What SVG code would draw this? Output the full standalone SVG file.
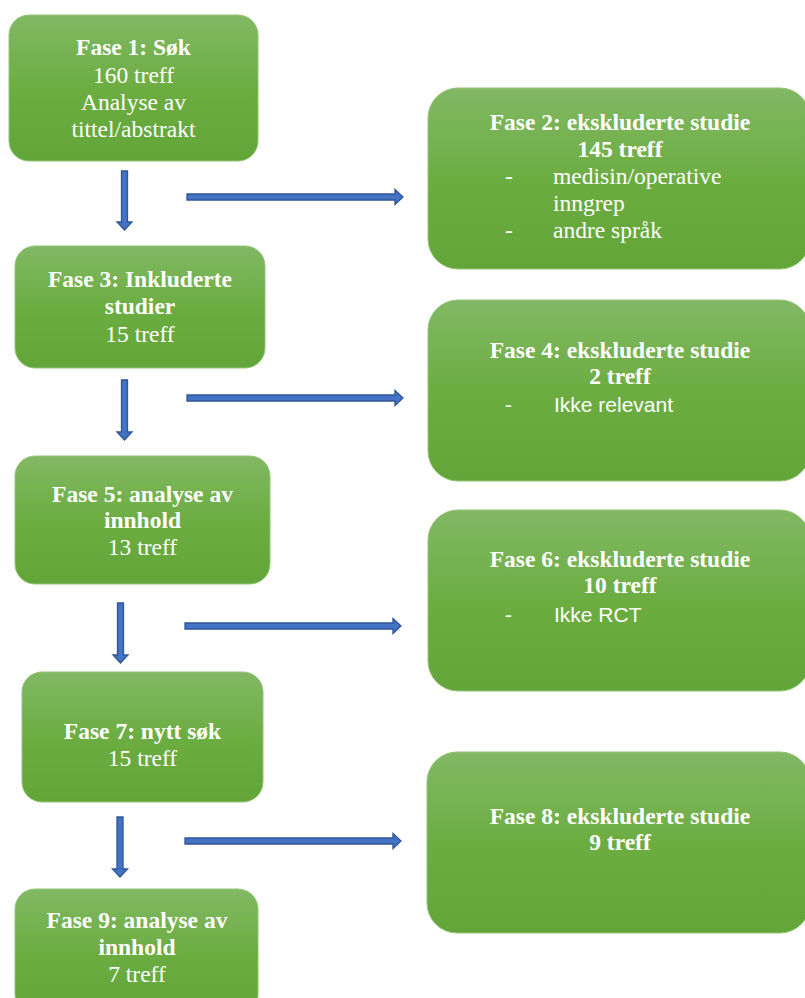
<svg xmlns="http://www.w3.org/2000/svg" width="805" height="998" viewBox="0 0 805 998">
<defs>
<linearGradient id="g" x1="0" y1="0" x2="0" y2="1">
<stop offset="0" stop-color="#82B864"/>
<stop offset="0.5" stop-color="#6CAD42"/>
<stop offset="1" stop-color="#62A538"/>
</linearGradient>
</defs>
<style>
.box{fill:url(#g);stroke:#95C477;stroke-width:1}
.t{font-family:"Liberation Serif","Times New Roman",serif;font-size:23.5px;fill:#FFFFFF;text-anchor:middle}
.b{font-weight:bold}
.l{font-family:"Liberation Serif","Times New Roman",serif;font-size:23.5px;fill:#FFFFFF}
.s{font-family:"Liberation Sans",Arial,sans-serif;font-size:21px;fill:#FFFFFF}
.arr{fill:#4472C4;stroke:#2F5597;stroke-width:1.3;stroke-linejoin:miter}
</style>
<rect width="805" height="998" fill="#FFFFFF"/>
<g id="connectors">
<path class="arr" d="M121.5 171 H127.5 V222 H132 L124.5 230 L117 222 H121.5 Z"/>
<path class="arr" d="M187 194 H395 V189.5 L403 197 L395 204.5 V200 H187 Z"/>
<path class="arr" d="M121.5 380 H127.5 V432 H132 L124.5 440 L117 432 H121.5 Z"/>
<path class="arr" d="M187 395 H395 V390.5 L403 398 L395 405.5 V401 H187 Z"/>
<path class="arr" d="M117.5 603 H123.5 V655 H128 L120.5 663 L113 655 H117.5 Z"/>
<path class="arr" d="M185 623 H393 V618.5 L401 626 L393 633.5 V629 H185 Z"/>
<path class="arr" d="M117 817 H123 V869 H127.5 L120 877 L112.5 869 H117 Z"/>
<path class="arr" d="M185 838 H393 V833.5 L401 841 L393 848.5 V844 H185 Z"/>
</g>
<g id="fase1">
<rect class="box" x="9" y="15" width="249" height="146" rx="20"/>
<text class="t b" x="133.5" y="55">Fase 1: Søk</text>
<text class="t" x="133.5" y="83">160 treff</text>
<text class="t" x="133.5" y="110">Analyse av</text>
<text class="t" x="133.5" y="137">tittel/abstrakt</text>
</g>
<g id="fase2">
<rect class="box" x="428" y="88" width="382" height="181" rx="30"/>
<text class="t b" x="620" y="130">Fase 2: ekskluderte studie</text>
<text class="t b" x="620" y="157">145 treff</text>
<text class="l" x="505" y="184">-</text>
<text class="l" x="553" y="184">medisin/operative</text>
<text class="l" x="553" y="211">inngrep</text>
<text class="l" x="505" y="238">-</text>
<text class="l" x="553" y="238">andre språk</text>
</g>
<g id="fase3">
<rect class="box" x="15" y="246" width="250" height="122" rx="20"/>
<text class="t b" x="140" y="287">Fase 3: Inkluderte</text>
<text class="t b" x="140" y="314">studier</text>
<text class="t" x="140" y="342">15 treff</text>
</g>
<g id="fase4">
<rect class="box" x="428" y="300" width="382" height="181" rx="30"/>
<text class="t b" x="620" y="358">Fase 4: ekskluderte studie</text>
<text class="t b" x="620" y="384">2 treff</text>
<text class="s" x="505" y="412">-</text>
<text class="s" x="554" y="412">Ikke relevant</text>
</g>
<g id="fase5">
<rect class="box" x="15" y="456" width="255" height="128" rx="20"/>
<text class="t b" x="142.5" y="502">Fase 5: analyse av</text>
<text class="t b" x="142.5" y="528">innhold</text>
<text class="t" x="142.5" y="555">13 treff</text>
</g>
<g id="fase6">
<rect class="box" x="428" y="510" width="382" height="181" rx="30"/>
<text class="t b" x="620" y="567">Fase 6: ekskluderte studie</text>
<text class="t b" x="620" y="593">10 treff</text>
<text class="s" x="505" y="622">-</text>
<text class="s" x="554" y="622">Ikke RCT</text>
</g>
<g id="fase7">
<rect class="box" x="22" y="672" width="241" height="130" rx="20"/>
<text class="t b" x="142.5" y="739">Fase 7: nytt søk</text>
<text class="t" x="142.5" y="766">15 treff</text>
</g>
<g id="fase8">
<rect class="box" x="427" y="752" width="383" height="181" rx="30"/>
<text class="t b" x="620" y="824">Fase 8: ekskluderte studie</text>
<text class="t b" x="620" y="850">9 treff</text>
</g>
<g id="fase9">
<rect class="box" x="15" y="889" width="243" height="125" rx="20"/>
<text class="t b" x="137" y="928">Fase 9: analyse av</text>
<text class="t b" x="137" y="955">innhold</text>
<text class="t" x="137" y="982">7 treff</text>
</g>
</svg>
